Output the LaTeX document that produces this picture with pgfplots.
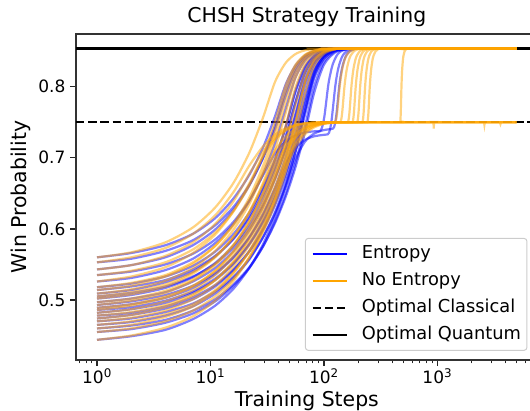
\documentclass[border=0pt]{standalone}
\usepackage{fontspec}
\setmainfont{DejaVu Sans}
\usepackage{pgfplots}
\pgfplotsset{compat=1.18}
\definecolor{mblue}{RGB}{0,0,255}
\definecolor{morange}{RGB}{255,165,0}
\pgfplotsset{
  bl/.style={mblue, draw opacity=0.5, line width=2.2pt, smooth, tension=0.45, forget plot, mark=none},
  or/.style={morange, draw opacity=0.5, line width=2.2pt, smooth, tension=0.45, forget plot, mark=none},
}
\begin{document}
\begin{tikzpicture}
\begin{axis}[
  xmode=log,
  width=461.6pt, height=326pt, scale only axis,
  xmin=0.653, xmax=7656, ymin=0.4156, ymax=0.8741,
  xtick={1,10,100,1000},
  xticklabels={10\textsuperscript{0},10\textsuperscript{1},10\textsuperscript{2},10\textsuperscript{3}},
  minor xtick={0.7,0.8,0.9,2,3,4,5,6,7,8,9,20,30,40,50,60,70,80,90,200,300,400,500,600,700,800,900,2000,3000,4000,5000,6000,7000},
  ytick={0.5,0.6,0.7,0.8},
  yticklabels={0.5,0.6,0.7,0.8},
  tick align=outside, tick pos=left,
  major tick length=6pt, minor tick length=3.4pt,
  major tick style={line width=1.3pt, black!85},
  minor tick style={line width=1pt, black!85},
  axis line style={line width=1.3pt, black!80},
  tick label style={font=\fontsize{17}{20}\selectfont},
  xticklabel style={anchor=base, yshift=-17.3pt},
  yticklabel style={anchor=east, inner sep=0pt, xshift=-4.5pt},
  title={CHSH Strategy Training},
  title style={font=\fontsize{20.4}{24}\selectfont, at={(axis description cs:0.5,1.0184)}, anchor=base, inner sep=0pt},
  xlabel={Training Steps},
  xlabel style={font=\fontsize{20.4}{24}\selectfont, at={(axis description cs:0.5,-0.1426)}, anchor=base, inner sep=0pt},
  ylabel={Win Probability},
  ylabel style={font=\fontsize{20.4}{24}\selectfont, at={(axis description cs:-0.0975,0.5)}, anchor=south, inner sep=0pt},
  legend style={at={(axis description cs:0.978,0.028)}, anchor=south east,
    draw=black!20, line width=1pt, fill=white, fill opacity=0.8, text opacity=1, rounded corners=3pt,
    inner xsep=6pt, inner ysep=7.5pt, row sep=11pt,
    font=\fontsize{17.8}{21}\selectfont,
    nodes={inner sep=0pt, text height=13pt, text depth=3pt}},
  legend cell align=left,
  legend image code/.code={\draw[#1] (0pt,0pt) -- (34pt,0pt); \path (48pt,0pt);},
]
\addlegendimage{mblue, line width=2.4pt}
\addlegendentry{Entropy}
\addlegendimage{morange, line width=2.4pt}
\addlegendentry{No Entropy}
\addlegendimage{black, line width=2.4pt, dash pattern=on 8.5pt off 3.7pt}
\addlegendentry{Optimal Classical}
\addlegendimage{black, line width=2.4pt}
\addlegendentry{Optimal Quantum}

\addplot[black, line width=2.4pt, forget plot] coordinates {(0.653,0.8536) (7656,0.8536)};
\addplot[black, line width=2.4pt, dash pattern=on 8.5pt off 3.7pt, forget plot] coordinates {(0.653,0.75) (7656,0.75)};

% Entropy (blue)
\addplot[bl] coordinates {(1,.560)(2,.566)(4,.577)(7,.593)(11,.615)(16,.643)(22,.676)(29,.714)(37,.758)(46,.803)(56,.8295)(68,.8438)(82,.8501)(100,.8527)(125,.8535)(5000,.8536)};
\addplot[bl] coordinates {(1,.553)(2,.558)(4,.569)(7,.584)(11,.605)(16,.631)(22,.662)(29,.699)(37,.740)(46,.787)(56,.8206)(68,.8395)(82,.8484)(100,.8521)(125,.8533)(160,.8536)(5000,.8536)};
\addplot[bl] coordinates {(1,.543)(2,.549)(4,.560)(7,.577)(11,.599)(16,.627)(22,.661)(29,.700)(37,.745)(46,.7936)(56,.8256)(68,.8424)(82,.8497)(100,.8526)(125,.8534)(160,.8536)(5000,.8536)};
\addplot[bl] coordinates {(1,.535)(2,.540)(4,.550)(7,.565)(11,.585)(16,.610)(22,.640)(29,.675)(37,.7056)(46,.7227)(56,.7314)(68,.7356)(82,.7372)(92,.7375)(95,.740)(98,.747)(101,.758)(104,.774)(108,.796)(111,.809)(114,.818)(117,.826)(120,.832)(126,.840)(132,.8455)(142,.850)(157,.8525)(182,.8535)(5000,.8536)};
\addplot[bl] coordinates {(1,.526)(2,.531)(4,.542)(7,.558)(11,.580)(16,.607)(22,.639)(29,.677)(37,.720)(46,.769)(56,.8125)(68,.8366)(82,.8475)(100,.852)(125,.8533)(160,.8536)(5000,.8536)};
\addplot[bl] coordinates {(1,.518)(2,.523)(4,.533)(7,.548)(11,.568)(16,.593)(22,.623)(29,.658)(37,.698)(46,.743)(56,.7919)(68,.8263)(82,.843)(100,.8505)(125,.853)(160,.8536)(5000,.8536)};
\addplot[bl] coordinates {(1,.514)(2,.519)(4,.528)(7,.543)(11,.562)(16,.586)(22,.615)(29,.648)(37,.687)(46,.730)(56,.778)(68,.8191)(82,.8397)(100,.8493)(125,.8528)(160,.8535)(5000,.8536)};
\addplot[bl] coordinates {(1,.509)(2,.514)(4,.525)(7,.540)(11,.561)(16,.587)(22,.618)(29,.655)(37,.696)(46,.743)(56,.7936)(68,.8279)(82,.844)(100,.8509)(125,.8531)(160,.8536)(5000,.8536)};
\addplot[bl] coordinates {(1,.505)(2,.510)(4,.519)(7,.533)(11,.551)(16,.574)(22,.602)(29,.634)(37,.671)(46,.712)(56,.758)(68,.8067)(82,.834)(100,.8472)(125,.8523)(160,.8535)(5000,.8536)};
\addplot[bl] coordinates {(1,.502)(2,.507)(4,.517)(7,.532)(11,.552)(16,.577)(22,.607)(29,.642)(37,.682)(46,.727)(56,.777)(68,.8196)(82,.8405)(100,.8497)(125,.8529)(160,.8536)(5000,.8536)};
\addplot[bl] coordinates {(1,.497)(2,.502)(4,.511)(7,.526)(11,.545)(16,.569)(22,.598)(29,.631)(37,.670)(46,.713)(56,.761)(68,.8101)(82,.8361)(100,.8482)(125,.8526)(160,.8535)(5000,.8536)};
\addplot[bl] coordinates {(1,.493)(2,.498)(4,.507)(7,.520)(11,.538)(16,.561)(22,.588)(29,.619)(37,.655)(46,.6918)(56,.7136)(68,.7251)(82,.7302)(100,.7323)(108,.733)(111,.7352)(114,.742)(117,.7533)(120,.769)(122,.780)(125,.796)(128,.8086)(131,.8183)(134,.8259)(137,.8318)(143,.8403)(149,.8455)(159,.850)(174,.8525)(199,.8535)(5000,.8536)};
\addplot[bl] coordinates {(1,.489)(2,.494)(4,.503)(7,.517)(11,.536)(16,.560)(22,.588)(29,.621)(37,.658)(46,.701)(56,.7475)(68,.8005)(82,.8318)(100,.8467)(125,.8522)(160,.8535)(5000,.8536)};
\addplot[bl] coordinates {(1,.486)(2,.490)(4,.499)(7,.512)(11,.530)(16,.552)(22,.578)(29,.609)(37,.644)(46,.684)(56,.728)(68,.780)(82,.8221)(100,.8429)(125,.8512)(160,.8533)(200,.8536)(5000,.8536)};
\addplot[bl] coordinates {(1,.482)(2,.487)(4,.496)(7,.510)(11,.528)(16,.551)(22,.579)(29,.611)(37,.648)(46,.689)(56,.735)(68,.7894)(82,.8268)(100,.8449)(125,.8518)(160,.8534)(5000,.8536)};
\addplot[bl] coordinates {(1,.478)(2,.482)(4,.491)(7,.504)(11,.521)(16,.543)(22,.568)(29,.598)(37,.633)(46,.672)(56,.715)(68,.766)(82,.8144)(100,.8399)(125,.8504)(160,.8532)(200,.8536)(5000,.8536)};
\addplot[bl] coordinates {(1,.474)(2,.479)(4,.488)(7,.501)(11,.519)(16,.542)(22,.569)(29,.600)(37,.636)(46,.677)(56,.722)(68,.7755)(82,.8204)(100,.8425)(125,.8512)(160,.8533)(200,.8536)(5000,.8536)};
\addplot[bl] coordinates {(1,.470)(2,.474)(4,.483)(7,.495)(11,.512)(16,.533)(22,.558)(29,.588)(37,.621)(46,.659)(56,.6981)(68,.7225)(82,.734)(100,.739)(115,.7403)(120,.741)(123,.7432)(126,.750)(129,.7613)(132,.777)(135.5,.796)(138.5,.8086)(141.5,.8183)(144.5,.8259)(147.5,.8318)(153.5,.8403)(159.5,.8455)(169.5,.850)(184.5,.8525)(209.5,.8535)(5000,.8536)};
\addplot[bl] coordinates {(1,.465)(2,.469)(4,.478)(7,.491)(11,.509)(16,.531)(22,.557)(29,.588)(37,.623)(46,.663)(56,.707)(68,.760)(82,.8117)(100,.8393)(125,.8504)(160,.8532)(200,.8536)(5000,.8536)};
\addplot[bl] coordinates {(1,.460)(2,.464)(4,.472)(7,.485)(11,.501)(16,.522)(22,.546)(29,.575)(37,.608)(46,.645)(56,.686)(68,.735)(82,.7911)(100,.8307)(125,.8479)(160,.8528)(200,.8535)(5000,.8536)};
\addplot[bl] coordinates {(1,.455)(2,.459)(4,.468)(7,.481)(11,.498)(16,.520)(22,.545)(29,.575)(37,.610)(46,.649)(56,.692)(68,.743)(82,.7999)(100,.8348)(125,.8492)(160,.853)(200,.8536)(5000,.8536)};
\addplot[bl] coordinates {(1,.444)(2,.449)(4,.458)(7,.473)(11,.492)(16,.516)(22,.545)(29,.578)(37,.617)(46,.660)(56,.708)(68,.7656)(82,.8177)(100,.8425)(125,.8514)(160,.8534)(5000,.8536)};

% No Entropy (orange)
\addplot[or] coordinates {(1,.560)(2,.567)(4,.581)(7,.602)(11,.630)(16,.665)(22,.707)(29,.756)(37,.8063)(46,.8334)(56,.8458)(68,.8511)(82,.8529)(100,.8535)(5000,.8536)};
\addplot[or] coordinates {(1,.553)(2,.560)(4,.573)(7,.593)(11,.619)(16,.652)(22,.689)(29,.7158)(37,.7323)(46,.7416)(56,.7463)(68,.7486)(82,.7496)(100,.7499)(470,.7499)(472,.7515)(474,.756)(476,.7635)(478,.774)(482,.7963)(485,.809)(488,.8188)(491,.8265)(497,.8372)(503,.8436)(515,.8499)(527,.8523)(545,.8534)(5000,.8536)};
\addplot[or] coordinates {(1,.543)(2,.549)(4,.562)(7,.581)(11,.607)(16,.639)(22,.6773)(29,.7085)(37,.7281)(46,.7393)(56,.7452)(68,.7482)(82,.7494)(100,.7499)(880,.7499)(922,.7499)(930,.741)(938,.7499)(980,.7499)(5000,.75)};
\addplot[or] coordinates {(1,.535)(2,.541)(4,.553)(7,.571)(11,.595)(16,.625)(22,.661)(29,.703)(37,.751)(46,.8014)(56,.8305)(68,.8449)(82,.8508)(100,.853)(125,.8536)(5000,.8536)};
\addplot[or] coordinates {(1,.526)(2,.533)(4,.546)(7,.566)(11,.592)(16,.625)(22,.664)(29,.7021)(37,.7252)(46,.7382)(56,.7448)(68,.7481)(82,.7494)(100,.7499)(139,.7499)(141,.7515)(143,.756)(145,.7635)(147,.774)(151,.7963)(154,.809)(157,.8188)(160,.8265)(166,.8372)(172,.8436)(184,.8499)(196,.8523)(214,.8534)(5000,.8536)};
\addplot[or] coordinates {(1,.518)(2,.524)(4,.535)(7,.553)(11,.576)(16,.605)(22,.640)(29,.680)(37,.727)(46,.779)(56,.8195)(68,.8404)(82,.8492)(100,.8525)(125,.8535)(5000,.8536)};
\addplot[or] coordinates {(1,.514)(2,.520)(4,.533)(7,.551)(11,.576)(16,.607)(22,.644)(29,.688)(37,.737)(46,.7919)(56,.827)(68,.8439)(82,.8506)(100,.8529)(125,.8536)(5000,.8536)};
\addplot[or] coordinates {(1,.509)(2,.515)(4,.527)(7,.545)(11,.569)(16,.599)(22,.635)(29,.6769)(37,.7099)(46,.7296)(56,.7404)(68,.7461)(82,.7486)(100,.7496)(125,.7499)(162,.7499)(164,.7515)(166,.756)(168,.7635)(170,.774)(174,.7963)(177,.809)(180,.8188)(183,.8265)(189,.8372)(195,.8436)(207,.8499)(219,.8523)(237,.8534)(5000,.8536)};
\addplot[or] coordinates {(1,.505)(2,.511)(4,.522)(7,.539)(11,.561)(16,.589)(22,.623)(29,.6618)(37,.6992)(46,.723)(56,.7366)(68,.7442)(82,.7478)(100,.7494)(125,.7499)(3400,.7499)(3560,.7499)(3600,.7475)(3640,.7499)(3800,.7499)(5000,.75)};
\addplot[or] coordinates {(1,.502)(2,.508)(4,.519)(7,.537)(11,.560)(16,.589)(22,.624)(29,.664)(37,.711)(46,.763)(56,.8116)(68,.8373)(82,.8482)(100,.8523)(125,.8534)(5000,.8536)};
\addplot[or] coordinates {(1,.497)(2,.502)(4,.513)(7,.529)(11,.551)(16,.578)(22,.610)(29,.6482)(37,.689)(46,.7167)(56,.733)(68,.7425)(82,.7471)(100,.7491)(125,.7498)(178,.7499)(180,.7515)(182,.756)(184,.7635)(186,.774)(190,.7963)(193,.809)(196,.8188)(199,.8265)(205,.8372)(211,.8436)(223,.8499)(235,.8523)(253,.8534)(5000,.8536)};
\addplot[or] coordinates {(1,.493)(2,.499)(4,.510)(7,.527)(11,.549)(16,.577)(22,.611)(29,.650)(37,.695)(46,.745)(56,.7982)(68,.8314)(82,.8459)(100,.8517)(125,.8533)(160,.8536)(5000,.8536)};
\addplot[or] coordinates {(1,.489)(2,.494)(4,.505)(7,.520)(11,.541)(16,.567)(22,.598)(29,.6346)(37,.676)(46,.7088)(56,.7285)(68,.7401)(82,.746)(100,.7488)(125,.7498)(196,.7499)(198,.7515)(200,.756)(202,.7635)(204,.774)(208,.7963)(211,.809)(214,.8188)(217,.8265)(223,.8372)(229,.8436)(241,.8499)(253,.8523)(271,.8534)(5000,.8536)};
\addplot[or] coordinates {(1,.486)(2,.492)(4,.503)(7,.519)(11,.541)(16,.569)(22,.602)(29,.640)(37,.6826)(46,.7137)(56,.7318)(68,.742)(82,.7469)(100,.7491)(125,.7498)(2400,.7499)(2570,.7499)(2600,.7465)(2630,.7499)(2800,.7499)(5000,.75)};
\addplot[or] coordinates {(1,.482)(2,.487)(4,.498)(7,.514)(11,.535)(16,.562)(22,.593)(29,.630)(37,.673)(46,.7205)(56,.7735)(68,.8198)(82,.8412)(100,.8502)(125,.853)(160,.8536)(5000,.8536)};
\addplot[or] coordinates {(1,.478)(2,.483)(4,.493)(7,.508)(11,.528)(16,.553)(22,.583)(29,.618)(37,.658)(46,.697)(56,.7217)(68,.7366)(82,.7444)(100,.7482)(125,.7496)(160,.7499)(218,.7499)(220,.7515)(222,.756)(224,.7635)(226,.774)(230,.7963)(233,.809)(236,.8188)(239,.8265)(245,.8372)(251,.8436)(263,.8499)(275,.8523)(293,.8534)(5000,.8536)};
\addplot[or] coordinates {(1,.474)(2,.479)(4,.490)(7,.506)(11,.528)(16,.555)(22,.587)(29,.625)(37,.6684)(46,.7055)(56,.7274)(68,.7399)(82,.7461)(100,.7488)(112,.7496)(125,.7499)(127,.7515)(129,.756)(131,.7635)(133,.774)(137,.7963)(140,.809)(143,.8188)(146,.8265)(152,.8372)(158,.8436)(170,.8499)(182,.8523)(200,.8534)(5000,.8536)};
\addplot[or] coordinates {(1,.470)(2,.475)(4,.485)(7,.501)(11,.521)(16,.547)(22,.577)(29,.613)(37,.654)(46,.6995)(56,.7505)(68,.8058)(82,.8354)(100,.8484)(125,.8527)(160,.8535)(5000,.8536)};
\addplot[or] coordinates {(1,.465)(2,.470)(4,.480)(7,.494)(11,.514)(16,.539)(22,.568)(29,.602)(37,.6414)(46,.6842)(56,.7143)(68,.7329)(82,.7427)(100,.7476)(125,.7495)(160,.7499)(5000,.75)};
\addplot[or] coordinates {(1,.460)(2,.465)(4,.476)(7,.491)(11,.512)(16,.538)(22,.569)(29,.606)(37,.6472)(46,.6907)(56,.719)(68,.7358)(82,.7443)(100,.7482)(125,.7497)(160,.7499)(241,.7499)(243,.7515)(245,.756)(247,.7635)(249,.774)(253,.7963)(256,.809)(259,.8188)(262,.8265)(268,.8372)(274,.8436)(286,.8499)(298,.8523)(316,.8534)(5000,.8536)};
\addplot[or] coordinates {(1,.455)(2,.460)(4,.470)(7,.485)(11,.505)(16,.530)(22,.560)(29,.595)(37,.635)(46,.680)(56,.730)(68,.7894)(82,.8288)(100,.8463)(125,.8523)(160,.8535)(5000,.8536)};
\addplot[or] coordinates {(1,.444)(2,.450)(4,.461)(7,.477)(11,.499)(16,.527)(22,.560)(29,.598)(37,.642)(46,.6915)(56,.7465)(68,.8063)(82,.837)(100,.8493)(125,.8529)(160,.8536)(5000,.8536)};
\end{axis}
\pgfresetboundingbox
\useasboundingbox (-76pt,-50pt) rectangle (454pt,360pt);
\end{tikzpicture}
\end{document}
